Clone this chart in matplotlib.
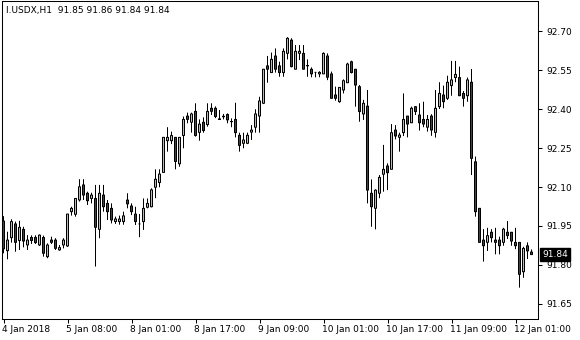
import matplotlib
matplotlib.use("Agg")
import matplotlib.pyplot as plt
import matplotlib.transforms as mtransforms
import numpy as np

plt.rcParams['font.family'] = ['DejaVu Sans']

symbol_title = "I.USDX,H1  91.85 91.86 91.84 91.84"

opens = [91.969, 91.855, 91.905, 91.958, 91.894, 91.937, 91.877, 91.906, 91.906, 91.877,
         91.906, 91.832, 91.896, 91.896, 91.858, 91.877, 91.873, 92.005, 91.995, 92.050,
         92.108, 92.076, 92.056, 92.056, 91.937, 92.069, 92.037, 92.018, 91.967, 91.967,
         91.967, 92.050, 92.027, 91.996, 91.958, 91.967, 92.022, 92.024, 92.099, 92.117,
         92.156, 92.278, 92.278, 92.291, 92.189, 92.298, 92.373, 92.349, 92.391, 92.310,
         92.349, 92.340, 92.403, 92.403, 92.362, 92.372, 92.379, 92.352, 92.360, 92.299,
         92.268, 92.268, 92.311, 92.330, 92.373, 92.422, 92.566, 92.540, 92.604, 92.566,
         92.540, 92.614, 92.665, 92.553, 92.614, 92.614, 92.566, 92.553, 92.541, 92.535,
         92.535, 92.604, 92.535, 92.454, 92.428, 92.473, 92.501, 92.582, 92.553, 92.486,
         92.381, 92.411, 92.076, 92.018, 92.076, 92.149, 92.181, 92.168, 92.319, 92.291,
         92.309, 92.373, 92.347, 92.409, 92.377, 92.360, 92.330, 92.373, 92.310, 92.409,
         92.454, 92.441, 92.490, 92.521, 92.521, 92.460, 92.451, 92.503, 92.197, 92.018,
         91.896, 91.887, 91.926, 91.896, 91.896, 91.887, 91.926, 91.926, 91.887, 91.887,
         91.774, 91.874, 91.850]
highs = [91.988, 91.928, 91.976, 91.967, 91.970, 91.947, 91.915, 91.914, 91.914, 91.917,
         91.913, 91.883, 91.909, 91.903, 91.877, 91.903, 91.996, 92.024, 92.056, 92.130,
         92.130, 92.082, 92.078, 92.108, 92.108, 92.108, 92.050, 92.037, 91.986, 91.990,
         92.005, 92.076, 92.037, 92.024, 91.996, 92.056, 92.056, 92.095, 92.168, 92.168,
         92.291, 92.330, 92.313, 92.291, 92.291, 92.371, 92.386, 92.386, 92.422, 92.360,
         92.368, 92.422, 92.422, 92.410, 92.396, 92.381, 92.383, 92.364, 92.424, 92.309,
         92.309, 92.309, 92.338, 92.399, 92.447, 92.553, 92.604, 92.617, 92.633, 92.582,
         92.633, 92.676, 92.672, 92.646, 92.646, 92.646, 92.591, 92.560, 92.541, 92.545,
         92.618, 92.614, 92.544, 92.486, 92.483, 92.514, 92.578, 92.586, 92.553, 92.492,
         92.435, 92.473, 92.129, 92.091, 92.146, 92.262, 92.191, 92.342, 92.338, 92.309,
         92.460, 92.373, 92.409, 92.411, 92.422, 92.428, 92.377, 92.380, 92.473, 92.503,
         92.490, 92.528, 92.585, 92.585, 92.563, 92.469, 92.521, 92.554, 92.217, 92.018,
         91.938, 91.943, 91.938, 91.943, 91.909, 91.943, 91.969, 91.926, 91.943, 91.887,
         91.870, 91.887, 91.860]
lows = [91.845, 91.822, 91.886, 91.851, 91.858, 91.868, 91.858, 91.881, 91.881, 91.873,
        91.832, 91.826, 91.881, 91.858, 91.855, 91.864, 91.870, 91.990, 91.986, 92.044,
        92.050, 92.031, 92.037, 91.794, 91.903, 92.005, 91.973, 91.960, 91.958, 91.955,
        91.955, 92.018, 91.992, 91.954, 91.907, 91.935, 92.018, 92.022, 92.057, 92.099,
        92.155, 92.236, 92.265, 92.168, 92.178, 92.249, 92.345, 92.309, 92.294, 92.278,
        92.309, 92.332, 92.377, 92.365, 92.358, 92.360, 92.345, 92.330, 92.291, 92.236,
        92.249, 92.265, 92.281, 92.309, 92.309, 92.419, 92.501, 92.540, 92.540, 92.524,
        92.524, 92.591, 92.560, 92.553, 92.588, 92.553, 92.524, 92.522, 92.522, 92.522,
        92.535, 92.511, 92.441, 92.432, 92.424, 92.460, 92.501, 92.537, 92.409, 92.351,
        92.358, 92.037, 91.947, 91.937, 92.057, 92.082, 92.088, 92.168, 92.283, 92.236,
        92.296, 92.291, 92.347, 92.377, 92.317, 92.330, 92.313, 92.297, 92.290, 92.400,
        92.403, 92.435, 92.451, 92.503, 92.451, 92.409, 92.428, 92.146, 91.986, 91.887,
        91.813, 91.854, 91.887, 91.841, 91.841, 91.874, 91.900, 91.874, 91.861, 91.713,
        91.751, 91.823, 91.840]
closes = [91.862, 91.896, 91.967, 91.887, 91.945, 91.892, 91.896, 91.894, 91.886, 91.915,
          91.845, 91.877, 91.887, 91.864, 91.867, 91.896, 91.996, 92.018, 92.056, 92.101,
          92.069, 92.047, 92.069, 91.945, 92.076, 92.024, 92.005, 91.973, 91.977, 91.977,
          91.989, 92.035, 92.005, 91.967, 91.958, 92.018, 92.037, 92.089, 92.130, 92.150,
          92.291, 92.291, 92.298, 92.198, 92.291, 92.360, 92.360, 92.381, 92.298, 92.342,
          92.317, 92.391, 92.391, 92.371, 92.360, 92.370, 92.358, 92.351, 92.309, 92.260,
          92.281, 92.299, 92.319, 92.381, 92.431, 92.553, 92.553, 92.591, 92.553, 92.540,
          92.622, 92.672, 92.563, 92.622, 92.622, 92.553, 92.567, 92.535, 92.541, 92.541,
          92.614, 92.522, 92.441, 92.441, 92.483, 92.509, 92.573, 92.540, 92.492, 92.390,
          92.422, 92.088, 92.024, 92.088, 92.137, 92.168, 92.155, 92.309, 92.296, 92.300,
          92.360, 92.342, 92.403, 92.390, 92.347, 92.342, 92.360, 92.319, 92.403, 92.460,
          92.428, 92.503, 92.512, 92.533, 92.451, 92.441, 92.512, 92.210, 92.005, 91.887,
          91.874, 91.913, 91.905, 91.887, 91.874, 91.938, 91.913, 91.892, 91.874, 91.764,
          91.864, 91.854, 91.840]

time_labels = ["4 Jan 2018", "5 Jan 08:00", "8 Jan 01:00", "8 Jan 17:00", "9 Jan 09:00",
               "10 Jan 01:00", "10 Jan 17:00", "11 Jan 09:00", "12 Jan 01:00"]
time_label_bars = [0, 16, 32, 48, 64, 80, 96, 112, 128]
price_ticks = [92.70, 92.55, 92.40, 92.25, 92.10, 91.95, 91.80, 91.65]
last_price = 91.84

o = np.array(opens); h = np.array(highs); l = np.array(lows); c = np.array(closes)
x = np.arange(len(o))

W, H = 580, 340
fig = plt.figure(figsize=(W/100, H/100), dpi=100)
left, right, top, bottom = 2, 538, 1, 319
ax = fig.add_axes([left/W, (H-bottom)/H, (right-left)/W, (bottom-top)/H])

ymin, ymax = 91.5923, 92.8154

up = c >= o
bull_col = '#7CFC00'
bear_col = '#E00000'
wicks = ax.vlines(x, l, h, color='black', linewidth=0.72, zorder=2)
wicks.set_snap(False)
body_bottom = np.minimum(o, c)
body_height = np.abs(c - o)
colors = [bull_col if u else bear_col for u in up]
bodies = ax.bar(x, body_height, bottom=body_bottom, width=0.5, color=colors,
                edgecolor='black', linewidth=0.72, zorder=3)
for p in bodies:
    p.set_snap(False)

ax.set_xlim(-0.375, -0.375 + (right - left) / 4.0)
ax.set_ylim(ymin, ymax)

for s in ax.spines.values():
    s.set_linewidth(0.75)
    s.set_color('black')

ax.yaxis.tick_right()
ax.set_yticks(price_ticks)
ax.set_yticklabels([f"{p:.2f}" for p in price_ticks])
ax.tick_params(axis='y', direction='out', length=3, width=0.75, pad=3, labelsize=6.5, colors='black')

ax.set_xticks(time_label_bars)
ax.set_xticklabels(time_labels, ha='left')
ax.tick_params(axis='x', direction='out', length=3, width=0.75, pad=1.5, labelsize=6.5, colors='black')
offset = mtransforms.ScaledTranslation(-1/100, 0, fig.dpi_scale_trans)
for lab in ax.get_xticklabels():
    lab.set_transform(lab.get_transform() + offset)

ax.text(4 / (right - left), 1 - 9.5 / (bottom - top), symbol_title, transform=ax.transAxes,
        fontsize=6.5, va='center', ha='left', color='black')

blend = mtransforms.blended_transform_factory(ax.transAxes, ax.transData)
ax.text(1 + 4 / (right - left), last_price, f"{last_price:.2f}", transform=blend,
        fontsize=6.5, va='center', ha='left', color='white',
        bbox=dict(boxstyle='square,pad=0.25', facecolor='black', edgecolor='black'))

fig.savefig('out.png', dpi=100, facecolor='white')
